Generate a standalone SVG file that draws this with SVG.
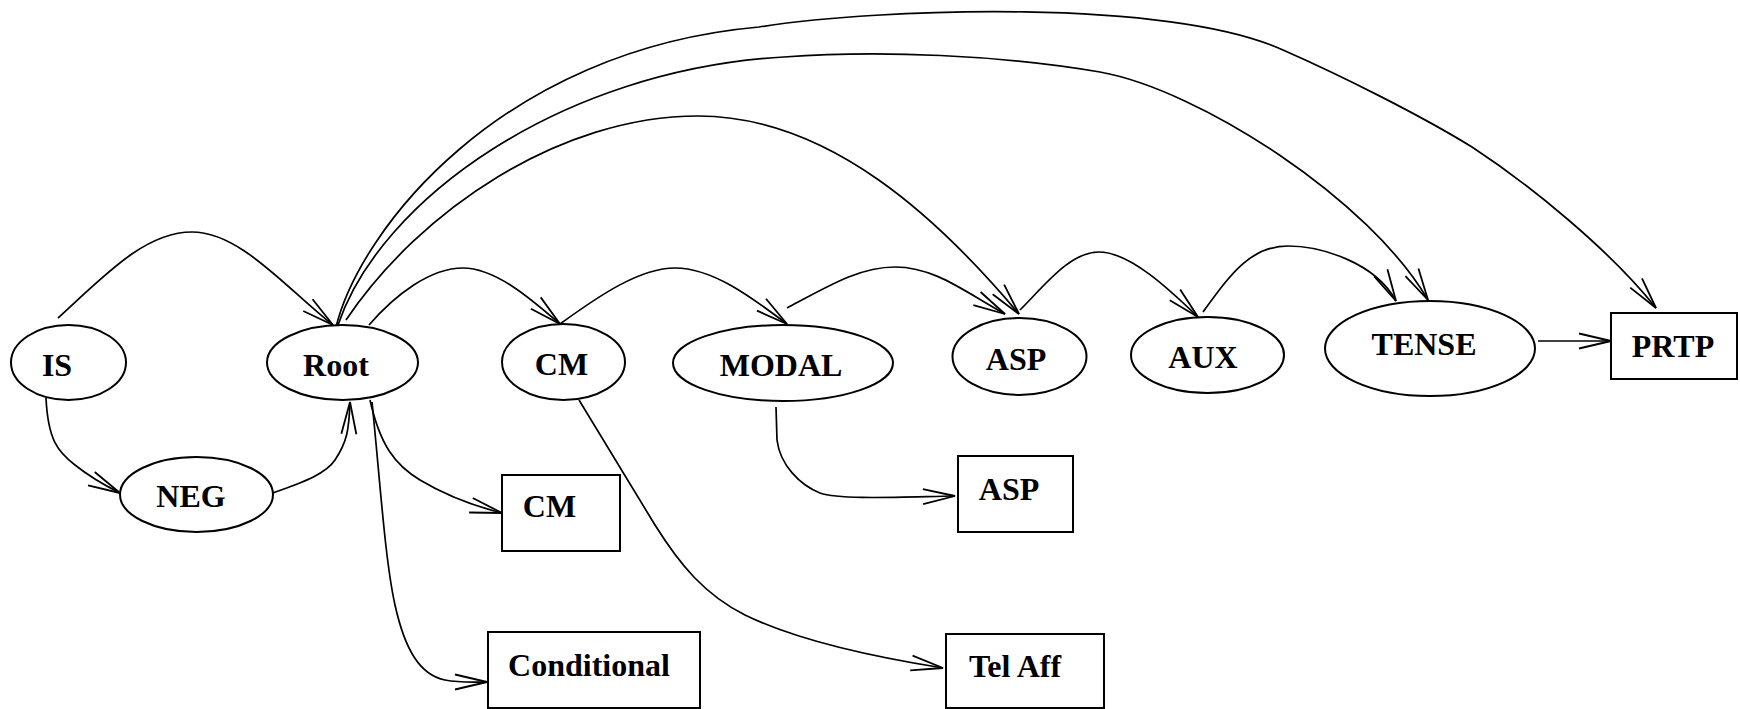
<svg xmlns="http://www.w3.org/2000/svg" width="1740" height="709" viewBox="0 0 1740 709">
<defs>
<marker id="arr" markerUnits="userSpaceOnUse" markerWidth="40" markerHeight="24" viewBox="-34 -12 40 24" refX="0" refY="0" orient="auto">
<path d="M-32,-7.5 L0,0 L-32,7.5" fill="none" stroke="#000" stroke-width="1.8"/>
</marker>
</defs>
<style>
.n{fill:#fff;stroke:#000;stroke-width:2}
.t{font-family:"Liberation Serif","Times New Roman",serif;font-weight:bold;font-size:32px;text-anchor:middle;fill:#000}
.e{fill:none;stroke:#000;stroke-width:1.7;marker-end:url(#arr)}
</style>
<rect width="1740" height="709" fill="#fff"/>
<g id="connectors">
<path class="e" d="M58,318 C105,275 145,232 192,232 C240,232 285,287 333,325"/>
<path class="e" d="M46,398 C48,440 58,452 75,465 C90,477 100,483 120,493"/>
<path class="e" d="M273,493 C300,483 325,475 335,460 C347,442 349,430 350,402"/>
<path class="e" d="M370,400 C380,445 395,465 420,480 C445,495 470,505 502,513"/>
<path class="e" d="M372,402 C380,480 385,560 395,605 C405,650 420,675 445,680 C460,683 475,682 487,682"/>
<path class="e" d="M369,325 C395,295 430,268 463,268 C495,268 530,298 560,324"/>
<path class="e" d="M560,324 C600,295 640,268 675,268 C712,268 750,296 787,324"/>
<path class="e" d="M787,308 C830,285 860,267 895,267 C935,267 965,292 1005,314"/>
<path class="e" d="M346,320 C420,210 560,116 698,116 C830,116 940,220 1019,314"/>
<path class="e" d="M338,325 C380,200 560,70 784,57 C880,50 1000,55 1100,72 C1200,90 1370,200 1428,300"/>
<path class="e" d="M336,327 C360,230 500,50 759,27 C880,8 1170,-2 1283,50 C1340,75 1420,115 1472,147 C1530,185 1610,250 1656,308"/>
<path class="e" d="M1020,310 C1045,285 1070,252 1099,252 C1130,252 1170,290 1198,317"/>
<path class="e" d="M1203,312 C1230,275 1250,246 1288,246 C1320,246 1375,262 1396,301"/>
<path class="e" d="M1538,341 L1611,341"/>
<path class="e" d="M579,400 L655,525 C680,565 705,595 745,615 C800,642 880,658 943,668"/>
<path class="e" d="M776,407 L777,440 C780,465 800,485 820,493 C840,500 900,497 955,496"/>
</g>
<g id="n-is"><ellipse class="n" cx="68.5" cy="362.5" rx="57.5" ry="37.5"/><text class="t" x="57" y="376">IS</text></g>
<g id="n-root"><ellipse class="n" cx="342.5" cy="362.5" rx="75.5" ry="37.5"/><text class="t" x="336" y="376">Root</text></g>
<g id="n-neg"><ellipse class="n" cx="196.5" cy="494.5" rx="76.5" ry="37.5"/><text class="t" x="191" y="507">NEG</text></g>
<g id="n-cm"><ellipse class="n" cx="563.5" cy="362" rx="61.5" ry="38"/><text class="t" x="561.5" y="375">CM</text></g>
<g id="n-modal"><ellipse class="n" cx="783" cy="363" rx="110" ry="38"/><text class="t" x="781" y="376">MODAL</text></g>
<g id="n-asp"><ellipse class="n" cx="1019.5" cy="356.5" rx="67" ry="38.5"/><text class="t" x="1016" y="370">ASP</text></g>
<g id="n-aux"><ellipse class="n" cx="1207.5" cy="355" rx="76.5" ry="38"/><text class="t" x="1203" y="368">AUX</text></g>
<g id="n-tense"><ellipse class="n" cx="1430" cy="348.5" rx="105" ry="47.5"/><text class="t" x="1424" y="355">TENSE</text></g>
<g id="n-prtp"><rect class="n" x="1611" y="313" width="126" height="66"/><text class="t" x="1673" y="357">PRTP</text></g>
<g id="n-cmbox"><rect class="n" x="502" y="475" width="118" height="76"/><text class="t" x="549.5" y="517">CM</text></g>
<g id="n-aspbox"><rect class="n" x="958" y="456" width="115" height="76"/><text class="t" x="1009" y="500">ASP</text></g>
<g id="n-cond"><rect class="n" x="488" y="632" width="212" height="76"/><text class="t" x="589" y="676">Conditional</text></g>
<g id="n-telaff"><rect class="n" x="946" y="634" width="158" height="74"/><text class="t" x="1015" y="677">Tel Aff</text></g>
</svg>
